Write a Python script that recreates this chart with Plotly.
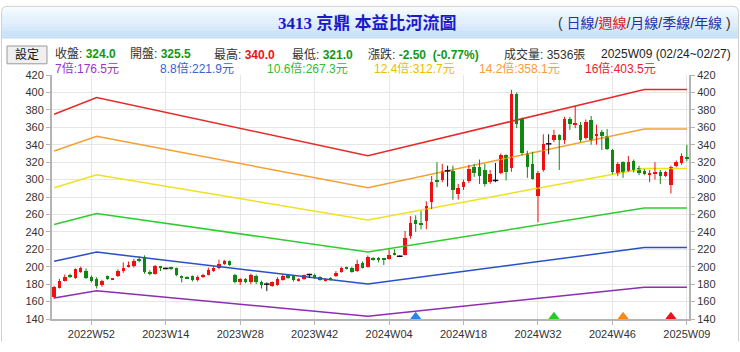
import plotly.graph_objects as go

# ---------------- data ----------------
closed_weeks = ["2025W05"]
week_spans = [(2022, 45, 52), (2023, 1, 52), (2024, 1, 52), (2025, 1, 9)]
weeks = []
for yr, w0, w1 in week_spans:
    for w in range(w0, w1 + 1):
        lab = f"{yr}W{w:02d}"
        if lab not in closed_weeks:
            weeks.append(lab)

opens = [165, 176, 184, 190, 187, 194, 195, 188, 186, 179,
         189, 185.2, 189, 195, 200, 201, 209, 211, 194, 192,
         200, 198, 199, 198, 189, 188, 189, 185, 188, 191,
         195, 198, 203, 207, 190, 182, 186, 182, 189, 182,
         180, 178, 179, 185, 190, 189, 184, 186, 191, 191,
         188, 184, 187, 189, 194, 199, 199, 195, 204, 200,
         210, 209, 209, 209, 216, 212, 214, 235, 254, 250,
         252, 274, 300, 300, 310, 310, 283, 291, 298, 315,
         314, 311, 297, 299, 307, 328, 313, 398, 370, 331,
         318, 281, 311, 341, 345, 351, 345, 369, 363, 363,
         348, 368, 350, 355, 350, 334, 306, 320, 310, 321,
         313, 310, 305, 307, 309, 304, 294, 316, 319, 325.5]
highs = [178, 186, 191, 192, 198, 200, 198, 190, 188, 185,
         190, 186, 197, 205, 206, 209, 212, 213, 196, 202,
         200, 199, 200, 199, 190, 189, 190, 190, 192, 199,
         201, 208, 208, 207, 192, 187, 187, 192, 191, 184,
         182, 183, 188, 191, 191, 190, 187, 191, 192, 192,
         189, 187, 188, 195, 200, 200, 200, 208, 206, 213,
         211, 211, 210, 220, 220, 213, 241, 258, 259, 264,
         275, 304, 320, 318, 316, 316, 295, 300, 317, 318,
         323, 318, 311, 319, 330, 329, 403, 400, 371, 333,
         332, 310, 352, 352, 357, 352, 372, 372, 384, 366,
         369, 373, 363, 357, 358, 335, 320, 321, 327, 323,
         316, 312, 311, 320, 311, 310, 316, 322, 330, 340]
lows = [163, 175, 183, 187, 186, 193, 186, 182, 175, 177,
        185, 185, 188, 193, 199, 199, 205, 192, 190, 191,
        195, 197, 196, 189, 182, 186, 183, 183, 187, 190,
        194, 197, 202, 201, 181, 179, 181, 180, 180, 175,
        172, 177, 178, 184, 186, 183, 183, 185, 187, 186,
        184, 183, 184, 188, 193, 197, 193, 194, 198, 199,
        207, 205, 202, 208, 213, 211, 213, 232, 240, 243,
        243, 266, 291, 297, 292, 277, 277, 288, 296, 303,
        295, 292, 295, 297, 306, 299, 309, 359, 328, 302,
        300, 251, 309, 329, 343, 311, 341, 357, 359, 343,
        346, 340, 340, 334, 334, 306, 304, 302, 309, 308,
        305, 305, 297, 300, 295, 303, 284, 314, 317, 321]
closes = [177, 184, 188, 189, 197, 198, 187, 184, 178, 184,
          186, 186, 195, 199, 202, 207, 207, 194, 192, 201,
          199, 198, 198, 190, 188, 187, 185, 188, 191, 196,
          198, 203, 207, 202, 183, 186, 182, 190, 182, 179,
          180, 182, 186, 189, 188, 185, 186, 190, 191, 187,
          185, 186, 186, 193, 199, 198, 194, 203, 199, 211,
          208, 208, 208, 214, 214, 212, 233, 250, 249, 248,
          270, 297, 297, 310, 310, 288, 290, 297, 312, 307,
          304, 295, 306, 299, 328, 309, 398, 364, 331, 315,
          301, 308, 341, 341, 351, 345, 369, 364, 365, 345,
          366, 345, 352, 350, 335, 309, 318, 308, 320, 310,
          307, 306, 308, 309, 304, 309, 314, 320, 327, 324]

eps_weeks = ["2022W45", "2023W01", "2023W52", "2024W52", "2025W09"]
eps_values = [23.43, 24.63, 20.46, 25.217, 25.217]
pe_multiples = [7, 8.8, 10.6, 12.4, 14.2, 16]

tick_weeks = ["2022W52", "2023W14", "2023W28", "2023W42", "2024W04",
              "2024W18", "2024W32", "2024W46", "2025W09"]
signal_weeks = ["2024W09", "2024W35", "2024W48", "2025W06"]

# ---------------- styles ----------------
band_line_colors = ["#8c2db4", "#2850c8", "#2ecc2e", "#f0e020", "#f5a030", "#e62a2a"]
band_text_colors = ["#9933cc", "#3366cc", "#33bb33", "#eebb00", "#ff9933", "#ee2222"]
signal_colors = ["#2288ee", "#22cc22", "#ff8811", "#ee1111"]
UP, DOWN, FLAT = "#ee1111", "#118811", "#111111"
CJK = "Liberation Sans, Arial, Noto Sans CJK TC"

L, R, T, B = 52, 689, 75, 336
W, H = R - L, B - T


def xp(px):
    return (px - L) / W


def yp(py):
    return (B - py) / H


fig = go.Figure()

# river bands
for m, col in zip(pe_multiples, band_line_colors):
    fig.add_trace(go.Scatter(x=eps_weeks, y=[m * e for e in eps_values], mode="lines",
                             line=dict(color=col, width=1.5), hoverinfo="skip"))

# candles
body_colors, bases, heights = [], [], []
wick = {UP: ([], []), DOWN: ([], []), FLAT: ([], [])}
doji_x, doji_y = [], []
for wk, o, h, l, c in zip(weeks, opens, highs, lows, closes):
    col = UP if c > o else (DOWN if c < o else FLAT)
    body_colors.append(col)
    bases.append(min(o, c))
    heights.append(abs(c - o))
    wick[col][0].extend([wk, wk, None])
    wick[col][1].extend([l, h, None])
    if col == FLAT:
        doji_x.append(wk)
        doji_y.append(o)

for col, (wx, wy) in wick.items():
    fig.add_trace(go.Scatter(x=wx, y=wy, mode="lines", line=dict(color=col, width=1),
                             hoverinfo="skip"))
fig.add_trace(go.Bar(x=weeks, y=heights, base=bases, width=0.66,
                     marker=dict(color=body_colors, line=dict(width=0))))
fig.add_trace(go.Scatter(x=doji_x, y=doji_y, mode="markers",
                         marker=dict(symbol="line-ew", size=4, line=dict(color=FLAT, width=1.5))))

# signal triangles
fig.add_trace(go.Scatter(x=signal_weeks, y=[142.6] * len(signal_weeks), mode="markers",
                         marker=dict(symbol="triangle-up", size=10, color=signal_colors),
                         cliponaxis=False))

# invisible trace for right axis
fig.add_trace(go.Scatter(x=[weeks[0]], y=[300], yaxis="y2", mode="markers",
                         marker=dict(opacity=0), hoverinfo="skip"))

axis_common = dict(range=[140, 420], dtick=20, showline=True, linecolor="#b4b4b4",
                   linewidth=2, ticks="outside", ticklen=4, tickcolor="#b4b4b4",
                   tickfont=dict(family="Liberation Sans, Arial", size=11, color="#333"),
                   zeroline=False, fixedrange=True)

fig.update_layout(
    width=740, height=352,
    margin=dict(l=L, r=740 - R, t=T, b=352 - B),
    paper_bgcolor="white", plot_bgcolor="white",
    showlegend=False, bargap=0,
    xaxis=dict(type="category", categoryorder="array", categoryarray=weeks,
               range=[-0.4, len(weeks) - 0.6], tickvals=tick_weeks,
               showgrid=True, gridcolor="#e6e6e6", showline=True, linecolor="#b4b4b4",
               linewidth=2, ticks="outside", ticklen=4, tickcolor="#b4b4b4",
               tickfont=dict(family="Liberation Sans, Arial", size=11, color="#333"),
               fixedrange=True),
    yaxis=dict(**axis_common, showgrid=True, gridcolor="#e6e6e6", side="left"),
    yaxis2=dict(**axis_common, showgrid=False, overlaying="y", side="right"),
)

shapes = []
# title band gradient
top_c, bot_c = (247, 251, 255), (196, 223, 248)
n = 17
for k in range(n):
    t = k / (n - 1)
    c = tuple(int(top_c[j] + (bot_c[j] - top_c[j]) * t) for j in range(3))
    y0 = 2 + k * 2
    shapes.append(dict(type="rect", xref="paper", yref="paper",
                       x0=xp(2), x1=xp(738), y0=yp(y0 + 2), y1=yp(y0),
                       fillcolor=f"rgb{c}", line=dict(width=0), layer="below"))
# outer border
shapes.append(dict(type="path", xref="paper", yref="paper",
                   path=f"M {xp(1.5)},{yp(360)} L {xp(1.5)},{yp(8)} Q {xp(1.5)},{yp(1.5)} {xp(8)},{yp(1.5)} "
                        f"L {xp(732)},{yp(1.5)} Q {xp(738.5)},{yp(1.5)} {xp(738.5)},{yp(8)} L {xp(738.5)},{yp(360)}",
                   line=dict(color="#cfcfcf", width=1)))
# button
shapes.append(dict(type="rect", xref="paper", yref="paper",
                   x0=xp(7), x1=xp(47), y0=yp(63), y1=yp(44),
                   fillcolor="#efefef", line=dict(color="#9a9a9a", width=1)))
fig.update_layout(shapes=shapes)

ann = []


def add(px, py, text, size=12, anchor="left", family=CJK, color="#333"):
    ann.append(dict(xref="paper", yref="paper", x=xp(px), y=yp(py), text=text,
                    showarrow=False, xanchor=anchor, yanchor="middle",
                    font=dict(family=family, size=size, color=color)))


add(367, 19, "<b>3413 京鼎 本益比河流圖</b>", size=17, anchor="center",
    family="Liberation Serif, Times New Roman, Noto Sans CJK TC", color="#1a1acc")
nav = ("( <span style='color:#2233aa'>日線</span>/<span style='color:#dd2222'>週線</span>/"
       "<span style='color:#2233aa'>月線</span>/<span style='color:#2233aa'>季線</span>/"
       "<span style='color:#2233aa'>年線</span> )")
add(733, 19, nav, size=14, anchor="right", color="#333")

add(27, 53.5, "設定", size=12, anchor="center", color="#111")
add(53, 53, "收盤: <b><span style='color:#119911'>324.0</span></b>")
add(128, 53, "開盤: <b><span style='color:#119911'>325.5</span></b>")
add(212, 53, "最高: <b><span style='color:#ee1111'>340.0</span></b>")
add(290, 53, "最低: <b><span style='color:#119911'>321.0</span></b>")
add(366, 53, "漲跌: <b><span style='color:#119911'>-2.50  (-0.77%)</span></b>")
add(502, 53, "成交量: 3536張")
add(733, 53, "2025W09 (02/24~02/27)", anchor="right", color="#222")

legend_x = [53, 158, 265, 372, 477, 583]
for m, col, lx in zip(pe_multiples, band_text_colors, legend_x):
    mtxt = f"{m:g}"
    add(lx, 68, f"{mtxt}倍:{m * eps_values[-1]:.1f}元", color=col)

fig.update_layout(annotations=ann)
fig.write_html("out.html")
